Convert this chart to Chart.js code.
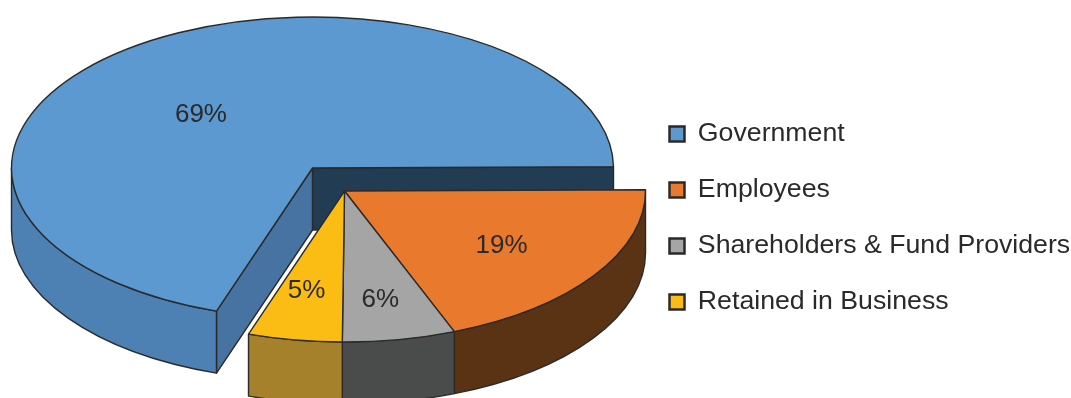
<!DOCTYPE html>
<html>
<head>
<meta charset="utf-8">
<title>Distribution of value added</title>
<script src="https://cdn.jsdelivr.net/npm/chart.js@4/dist/chart.umd.js"></script>
<style>
  html, body { margin: 0; padding: 0; background: #fff; overflow: hidden; }
  #chart-wrap { position: relative; width: 1071px; height: 398px; }
</style>
</head>
<body>
<div id="chart-wrap"><canvas id="value-pie"></canvas></div>
<script>
const categories = ['Government', 'Employees', 'Shareholders & Fund Providers', 'Retained in Business'];
const shares = [69, 19, 6, 5];

const faceColors = ['#5B99D0', '#E97A2D', '#A5A5A5', '#FBBD14'];
const wallColors = ['#4D80B3', '#5A3214', '#4A4C4B', '#A5812C'];
const INK = '#2B2A29';

// the pie is tilted by squashing it into an ellipse and extruding it downward
const RADIUS_X = 301;
const RADIUS_Y = 151;
const DEPTH = 62;

const LEGEND_FONT = 26.7;
const LEGEND_PITCH = 56;
const LEGEND_BOX_LEFT = 669.5;

// the first slice is pulled away from the other three, which stay together
const blocks = [
  { slices: [0], dx: -3, dy: -50 },
  { slices: [1, 2, 3], dx: 29, dy: -27 },
];

const labelTurn = [-9.5, 0, 1, 1.5];
const labelReach = [0.52, 0.63, 0.72, 0.66];

function blockCentre(arc, block) {
  return { x: arc.x + block.dx, y: arc.y + block.dy };
}

function strokeLine(ctx) {
  ctx.strokeStyle = INK;
  ctx.lineWidth = 1.4;
  ctx.lineJoin = 'round';
  ctx.stroke();
}

function rimPoint(c, angle) {
  return { x: c.x + RADIUS_X * Math.cos(angle), y: c.y + RADIUS_Y * Math.sin(angle) };
}

// flat cut face running from the centre out to the rim
function drawCutFace(ctx, c, angle, color) {
  const p = rimPoint(c, angle);
  ctx.beginPath();
  ctx.moveTo(c.x, c.y);
  ctx.lineTo(p.x, p.y);
  ctx.lineTo(p.x, p.y + DEPTH);
  ctx.lineTo(c.x, c.y + DEPTH);
  ctx.closePath();
  ctx.fillStyle = color;
  ctx.fill();
  strokeLine(ctx);
}

// outer wall, only where the rim faces the viewer
function drawWall(ctx, c, arc, color) {
  for (let k = 0; k < 2; k++) {
    const lo = Math.max(arc.startAngle, 2 * Math.PI * k);
    const hi = Math.min(arc.endAngle, Math.PI + 2 * Math.PI * k);
    if (hi <= lo) continue;
    ctx.beginPath();
    ctx.ellipse(c.x, c.y, RADIUS_X, RADIUS_Y, 0, lo, hi);
    ctx.ellipse(c.x, c.y + DEPTH, RADIUS_X, RADIUS_Y, 0, hi, lo, true);
    ctx.closePath();
    ctx.fillStyle = color;
    ctx.fill();
    strokeLine(ctx);
  }
}

function drawFace(ctx, c, arc) {
  const r = arc.outerRadius;
  ctx.save();
  ctx.translate(c.x, c.y);
  ctx.scale(RADIUS_X / r, RADIUS_Y / r);
  ctx.translate(-arc.x, -arc.y);
  arc.draw(ctx);
  ctx.restore();

  // outline is stroked outside the squash so the pen stays even
  ctx.beginPath();
  ctx.moveTo(c.x, c.y);
  ctx.ellipse(c.x, c.y, RADIUS_X, RADIUS_Y, 0, arc.startAngle, arc.endAngle);
  ctx.closePath();
  strokeLine(ctx);
}

const tiltedPie = {
  id: 'tiltedPie',
  afterLayout(chart) {
    // the legend keeps its own padding; only the padded box edge is placed here
    const width = chart.legend.right - chart.legend.left;
    chart.legend.left = LEGEND_BOX_LEFT - chart.legend.options.labels.padding;
    chart.legend.right = chart.legend.left + width;
  },
  beforeDatasetsDraw(chart) {
    const { ctx } = chart;
    const arcs = chart.getDatasetMeta(0).data;

    ctx.save();
    blocks.forEach((block, b) => {
      const c = blockCentre(arcs[block.slices[0]], block);
      if (b === 0) {
        const arc = arcs[0];
        drawCutFace(ctx, c, arc.endAngle, '#223C54');
        drawCutFace(ctx, c, arc.startAngle, '#4673A1');
      }
      block.slices.forEach((i) => drawWall(ctx, c, arcs[i], wallColors[i]));
      block.slices.forEach((i) => drawFace(ctx, c, arcs[i]));
    });

    ctx.fillStyle = INK;
    ctx.font = '26px "Liberation Sans"';
    ctx.textAlign = 'center';
    ctx.textBaseline = 'middle';
    blocks.forEach((block) => {
      block.slices.forEach((i) => {
        const arc = arcs[i];
        const c = blockCentre(arc, block);
        const mid = (arc.startAngle + arc.endAngle) / 2 + labelTurn[i] * Math.PI / 180;
        const x = c.x + RADIUS_X * labelReach[i] * Math.cos(mid);
        const y = c.y + RADIUS_Y * labelReach[i] * Math.sin(mid) + 2;
        ctx.fillText(shares[i] + '%', x, y);
      });
    });
    ctx.restore();
    return false;
  },
};

new Chart(document.getElementById('value-pie'), {
  type: 'pie',
  data: {
    labels: categories,
    datasets: [{
      data: shares,
      backgroundColor: faceColors,
      borderWidth: 0,
    }],
  },
  options: {
    responsive: true,
    maintainAspectRatio: false,
    animation: false,
    rotation: 198.6,
    layout: { padding: { top: 38 } },
    plugins: {
      tooltip: { enabled: false },
      legend: {
        position: 'right',
        labels: {
          color: INK,
          boxWidth: 15,
          boxHeight: 15,
          padding: LEGEND_PITCH - LEGEND_FONT,
          font: { family: '"Liberation Sans"', size: LEGEND_FONT },
          generateLabels: (chart) => categories.map((name, i) => ({
            text: name,
            fillStyle: faceColors[i],
            strokeStyle: INK,
            lineWidth: 2.5,
            fontColor: INK,
            index: i,
          })),
        },
      },
    },
  },
  plugins: [tiltedPie],
});
</script>
</body>
</html>
